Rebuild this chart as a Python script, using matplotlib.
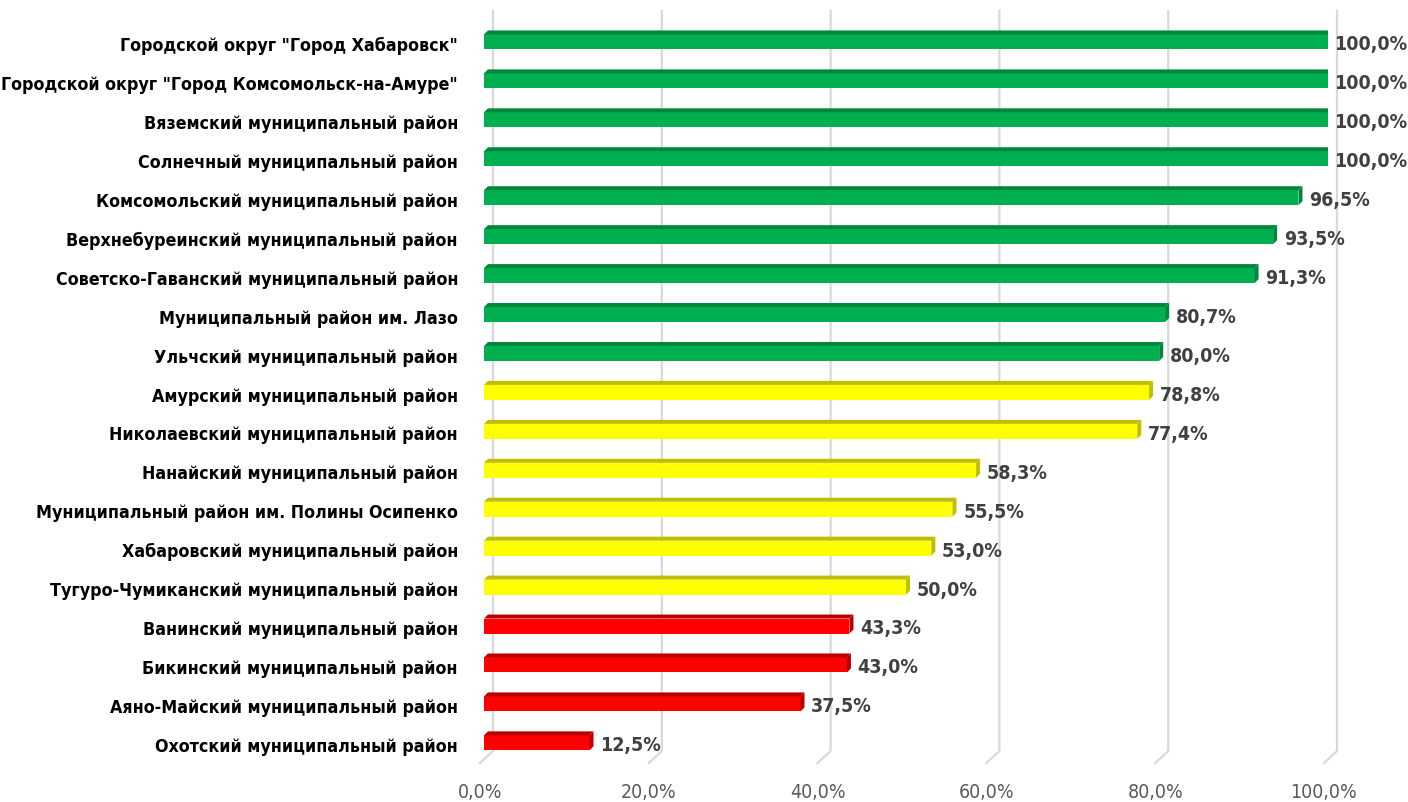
import matplotlib
matplotlib.use("Agg")
import matplotlib.pyplot as plt
from matplotlib.patches import Polygon, Rectangle

plt.rcParams["font.family"] = ["DejaVu Sans"]
plt.rcParams["font.stretch"] = "condensed"

districts = [
    'Городской округ "Город Хабаровск"',
    'Городской округ "Город Комсомольск-на-Амуре"',
    "Вяземский муниципальный район",
    "Солнечный муниципальный район",
    "Комсомольский муниципальный район",
    "Верхнебуреинский муниципальный район",
    "Советско-Гаванский муниципальный район",
    "Муниципальный район им. Лазо",
    "Ульчский муниципальный район",
    "Амурский муниципальный район",
    "Николаевский муниципальный район",
    "Нанайский муниципальный район",
    "Муниципальный район им. Полины Осипенко",
    "Хабаровский муниципальный район",
    "Тугуро-Чумиканский муниципальный район",
    "Ванинский муниципальный район",
    "Бикинский муниципальный район",
    "Аяно-Майский муниципальный район",
    "Охотский муниципальный район",
]
values = [100.0, 100.0, 100.0, 100.0, 96.5, 93.5, 91.3, 80.7, 80.0,
          78.8, 77.4, 58.3, 55.5, 53.0, 50.0, 43.3, 43.0, 37.5, 12.5]
x_ticks = [0, 20, 40, 60, 80, 100]

# front / top+side colours per level
GREEN = ("#00B050", "#00873C")
YELLOW = ("#FFFF00", "#BFBF00")
RED = ("#FF0000", "#B80000")


def level(v):
    if v >= 80:
        return GREEN
    if v >= 50:
        return YELLOW
    return RED


W, H = 1408, 803
fig = plt.figure(figsize=(W / 100, H / 100), dpi=100)
# pixel geometry: 0% at x=484, 100% at x=1328; row 0 at y=41, step 38.94
px_per_pct = (1328 - 484) / 100
row_px = 38.94
y_top, y_bot = -0.8, 18.6
top_px = 41 + y_top * row_px
bot_px = 41 + y_bot * row_px
ax = fig.add_axes([484 / W, 1 - bot_px / H, 844 / W, (bot_px - top_px) / H])
ax.set_xlim(0, 100)
ax.set_ylim(y_bot, y_top)
ax.axis("off")

dx = 4 / px_per_pct          # depth offset in x (percent units)
dy = 4 / row_px              # depth offset in y (row units)
wall_dx = 9 / px_per_pct     # back-wall gridline shift
front_dx = -4 / px_per_pct   # front edge of floor
floor_y = (752 - 41) / row_px
front_y = (764 - 41) / row_px

# gridlines: back wall + floor diagonal
for t in x_ticks:
    ax.plot([t + wall_dx, t + wall_dx, t + front_dx],
            [y_top + 0.05, floor_y, front_y],
            color="#D9D9D9", lw=1.6, clip_on=False, zorder=1,
            solid_joinstyle="miter")
    ax.text(t + front_dx, (793 - 41) / row_px, f"{t:.1f}%".replace(".", ","),
            ha="center", va="center", fontsize=14, color="#595959",
            clip_on=False)

bar_h = 15 / row_px
for i, (name, v) in enumerate(zip(districts, values)):
    front, dark = level(v)
    yc = i + 0.05
    top = yc - bar_h / 2
    ax.add_patch(Rectangle((0, top), v, bar_h, facecolor=front,
                           edgecolor="none", zorder=3))
    ax.add_patch(Polygon([(0, top), (v, top), (v + dx, top - dy), (dx, top - dy)],
                         closed=True, facecolor=dark, edgecolor="none", zorder=3))
    ax.add_patch(Polygon([(v, top), (v + dx, top - dy), (v + dx, top + bar_h - dy),
                          (v, top + bar_h)],
                         closed=True, facecolor=dark, edgecolor="none", zorder=3))
    lx = v + dx + (0.3 if v >= 100 else 0.8)
    ax.text(lx, yc + 0.05, f"{v:.1f}%".replace(".", ","), ha="left",
            va="center", fontsize=14, fontweight="bold", color="#404040",
            clip_on=False, zorder=4)
    ax.text(-26 / px_per_pct, yc + 0.08, name, ha="right", va="center",
            fontsize=12.8, fontweight="bold", color="black", clip_on=False)

fig.savefig("out.png", dpi=100)
